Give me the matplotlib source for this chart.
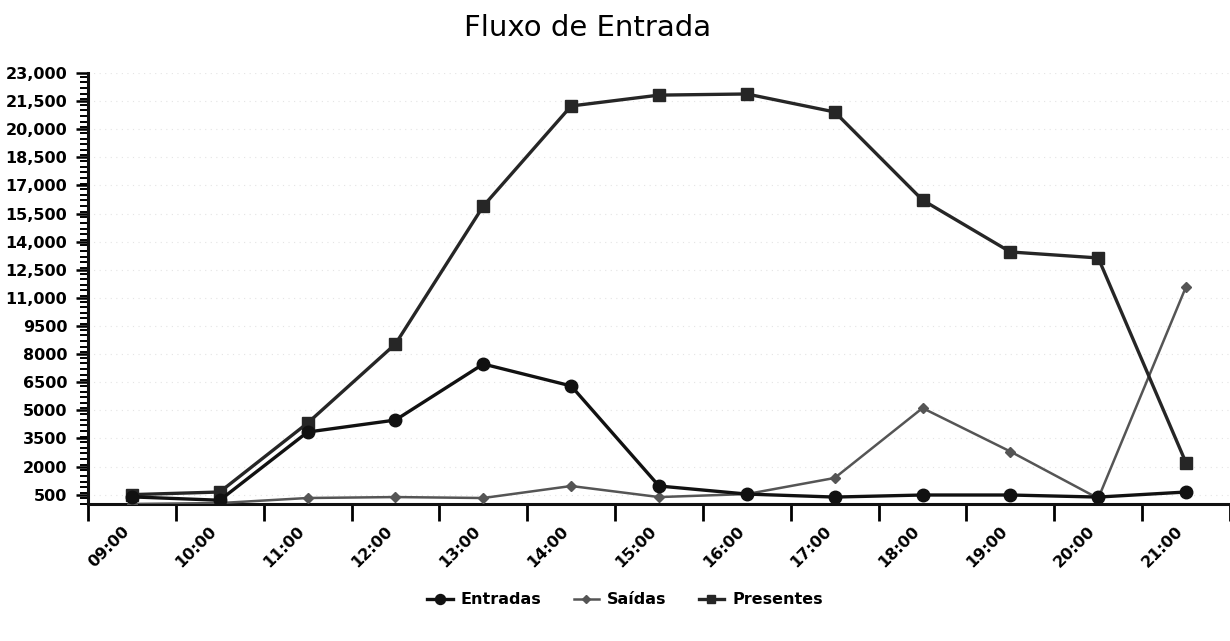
import matplotlib
matplotlib.use("Agg")
import matplotlib.pyplot as plt
from matplotlib.ticker import MultipleLocator, FuncFormatter, FixedLocator

# -------------------------
# Data
# -------------------------
hours = ["09:00", "10:00", "11:00", "12:00", "13:00", "14:00", "15:00",
         "16:00", "17:00", "18:00", "19:00", "20:00", "21:00"]
entradas = [380, 200, 3840, 4480, 7470, 6300, 960, 530, 370, 480, 480, 370, 640]
saidas = [0, 50, 320, 370, 320, 960, 370, 530, 1390, 5120, 2800, 300, 11600]
presentes = [500, 640, 4320, 8540, 15900, 21240, 21820, 21880, 20920,
             16220, 13450, 13130, 2190]

y_ticks = list(range(500, 23001, 1500))

plt.rcParams["font.family"] = ["DejaVu Sans"]

fig = plt.figure(figsize=(12.3, 6.41), dpi=100)
ax = fig.add_axes([88 / 1230, 1 - 504 / 641, 1 - 88 / 1230, (504 - 73) / 641])

x = list(range(len(hours)))

ax.plot(x, entradas, color="#111111", lw=2.4, marker="o", ms=9,
        label="Entradas", zorder=4)
ax.plot(x, saidas, color="#555555", lw=1.8, marker="D", ms=5,
        label="Saídas", zorder=3)
ax.plot(x, presentes, color="#262626", lw=2.4, marker="s", ms=8,
        label="Presentes", zorder=3)

ax.set_xlim(-0.5, 12.5)
ax.set_ylim(0, 23000)

# y axis
ax.set_yticks(y_ticks)
ax.yaxis.set_minor_locator(MultipleLocator(300))


def fmt(v, pos):
    v = int(round(v))
    return f"{v:,}" if v >= 10000 else str(v)


ax.yaxis.set_major_formatter(FuncFormatter(fmt))
ax.tick_params(axis="y", which="major", length=9, width=1.8, labelsize=11.5, pad=6)
ax.tick_params(axis="y", which="minor", length=6, width=1.4)

# x axis: labels at category centres, tick marks on the boundaries
ax.set_xticks(x)
ax.set_xticklabels(hours, rotation=45, ha="right", va="top")
ax.xaxis.set_minor_locator(FixedLocator([i - 0.5 for i in range(len(hours) + 1)]))
ax.tick_params(axis="x", which="major", length=0, labelsize=11.5, pad=14)
ax.tick_params(axis="x", which="minor", length=12, width=2)

for lbl in ax.get_xticklabels() + ax.get_yticklabels():
    lbl.set_fontweight("bold")

for s in ["top", "right"]:
    ax.spines[s].set_visible(False)
for s in ["left", "bottom"]:
    ax.spines[s].set_linewidth(2.2)
    ax.spines[s].set_color("#111111")

ax.grid(axis="y", which="major", color="#e4e4e4", lw=0.8, ls=(0, (1, 4)))
ax.set_axisbelow(True)

fig.text(588 / 1230, 1 - 28 / 641, "Fluxo de Entrada", ha="center",
         va="center", fontsize=21)

fig.legend(loc="center", bbox_to_anchor=(625 / 1230, 1 - 600 / 641), ncol=3,
           frameon=False, handlelength=1.6, columnspacing=2.0,
           handletextpad=0.5, markerscale=0.8,
           prop={"weight": "bold", "size": 11.5})

fig.savefig("out.png", dpi=100)
